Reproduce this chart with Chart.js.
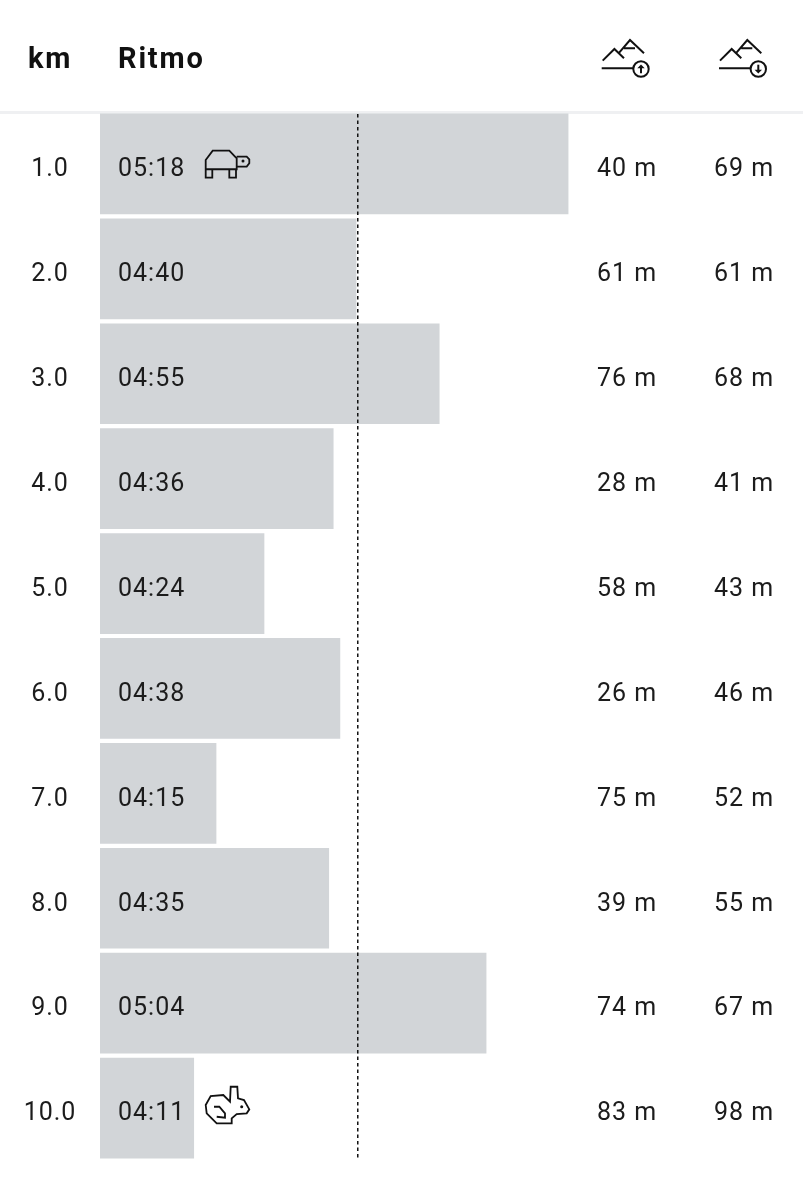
<!DOCTYPE html>
<html>
<head>
<meta charset="utf-8">
<style>
  html, body { margin: 0; padding: 0; background: #fff; }
  #paceChart { display: block; }
</style>
<script src="https://cdn.jsdelivr.net/npm/chart.js@4"></script>
</head>
<body>
<canvas id="paceChart" width="803" height="1200"></canvas>
<script>
const kmLabels = ["1.0", "2.0", "3.0", "4.0", "5.0", "6.0", "7.0", "8.0", "9.0", "10.0"];
const paceLabels = ["05:18", "04:40", "04:55", "04:36", "04:24", "04:38", "04:15", "04:35", "05:04", "04:11"];
// largo de cada barra en segundos
const paceSeconds = [317.9, 279.9, 294.8, 275.8, 263.4, 277, 254.8, 275, 303.2, 250.8];
const ascentMeters = [40, 61, 76, 28, 58, 26, 75, 39, 74, 83];
const descentMeters = [69, 61, 68, 41, 43, 46, 52, 55, 67, 98];
const averagePace = 280.2;

const fontName = "Roboto, sans-serif";
const textColor = "#1c1c1c";

// iconos dibujados a mano, origen en el centro de la fila
const turtleIcon = new Path2D(
  "M0.7 -4 L7.7 -13.3 L24.3 -13.3 L31.7 -5.7 L31.7 5.3 L0.7 5.3 Z" +
  "M0.7 5.3 L0.7 13.7 L7.3 13.7 L7.3 5.3" +
  "M24.3 5.3 L24.3 13.7 L31 13.7 L31 5.3" +
  "M31.7 -7.3 L41.7 -7.3 L44.3 -4.7 L44.3 -0.7 L41.7 2.7 L31.7 2.7"
);
const hareIcon = new Path2D(
  "M0.7 -3 L5.7 -12 L18.3 -13 L25 -6.3 L25.7 -21.3 L32.3 -21.3 L33 -9.7 L39 -8 L44.3 1.3 " +
  "L41.7 5.3 L31.7 6 L26.7 10.3 L26.7 15.3 L11.7 15.3 L1.7 5.3 Z" +
  "M9 -1.3 L14.3 -1.3 L20 5.3 L20 9.7 L11.7 8.7"
);
const mountainIcon = new Path2D(
  "M1 -7.7 L12.7 -19.3 L22.3 -10 M17.7 -16 L28.3 -28.3 L42.3 -15 M22.3 -20 L33.3 -20 M0 0 L31.7 0"
);

function drawEye(ctx, x, y) {
  ctx.beginPath();
  ctx.arc(x, y, 1.5, 0, Math.PI * 2);
  ctx.fill();
}

function drawMountain(ctx, x, y, up) {
  ctx.save();
  ctx.translate(x, y);
  ctx.strokeStyle = "#111";
  ctx.fillStyle = "#111";
  ctx.lineWidth = 2;
  ctx.stroke(mountainIcon);
  ctx.beginPath();
  ctx.arc(39.3, 0.7, 7.7, 0, Math.PI * 2);
  ctx.stroke();
  const dir = up ? 1 : -1;
  ctx.beginPath();
  ctx.moveTo(39.3, 0.7 + dir * 4.3);
  ctx.lineTo(39.3, 0.7 - dir * 1.5);
  ctx.stroke();
  ctx.beginPath();
  ctx.moveTo(35.6, 0.7 - dir * 0.8);
  ctx.lineTo(39.3, 0.7 - dir * 4.5);
  ctx.lineTo(43, 0.7 - dir * 0.8);
  ctx.closePath();
  ctx.fill();
  ctx.restore();
}

const tablePlugin = {
  id: "tablePlugin",
  beforeDatasetsDraw(chart) {
    const ctx = chart.ctx;
    ctx.save();
    ctx.fillStyle = "#eff0f2";
    ctx.fillRect(0, 111, 803, 3);
    ctx.restore();
  },
  afterDatasetsDraw(chart) {
    const ctx = chart.ctx;
    const x = chart.scales.x;
    const y = chart.scales.y;
    ctx.save();

    // linea del ritmo medio
    ctx.strokeStyle = "#111";
    ctx.lineWidth = 1.5;
    ctx.setLineDash([3.5, 3]);
    ctx.beginPath();
    ctx.moveTo(x.getPixelForValue(averagePace), y.getPixelForValue(0) - 50);
    ctx.lineTo(x.getPixelForValue(averagePace), y.getPixelForValue(kmLabels.length - 1) + 50);
    ctx.stroke();
    ctx.setLineDash([]);

    // cabecera
    ctx.fillStyle = "#111";
    ctx.textBaseline = "middle";
    ctx.font = "bold 29px " + fontName;
    ctx.letterSpacing = "1.8px";
    ctx.textAlign = "center";
    ctx.fillText("km", 50, 61);
    ctx.textAlign = "left";
    ctx.fillText("Ritmo", 118, 61);
    drawMountain(ctx, 601.7, 68.3, true);
    drawMountain(ctx, 719, 68.3, false);

    // filas
    ctx.fillStyle = textColor;
    ctx.font = "25px " + fontName;
    ctx.letterSpacing = "1px";
    kmLabels.forEach((km, i) => {
      const rowY = y.getPixelForValue(i) + 6;
      ctx.textAlign = "center";
      ctx.fillText(km, 50, rowY);
      ctx.fillText(ascentMeters[i] + " m", 627, rowY);
      ctx.fillText(descentMeters[i] + " m", 744, rowY);
      ctx.textAlign = "left";
      ctx.fillText(paceLabels[i], 118, rowY);
    });

    // tortuga en el km mas lento, liebre en el mas rapido
    const slowest = paceSeconds.indexOf(Math.max(...paceSeconds));
    const fastest = paceSeconds.indexOf(Math.min(...paceSeconds));
    ctx.strokeStyle = "#111";
    ctx.fillStyle = "#111";
    ctx.lineWidth = 1.8;
    ctx.save();
    ctx.translate(205, y.getPixelForValue(slowest));
    ctx.stroke(turtleIcon);
    drawEye(ctx, 38, -3);
    ctx.restore();
    ctx.save();
    ctx.translate(205, y.getPixelForValue(fastest));
    ctx.stroke(hareIcon);
    drawEye(ctx, 36.7, -1.3);
    ctx.restore();

    ctx.restore();
  }
};

new Chart(document.getElementById("paceChart").getContext("2d"), {
  type: "bar",
  data: {
    labels: kmLabels,
    datasets: [{
      data: paceSeconds,
      backgroundColor: "#d2d5d8",
      barThickness: 100,
      borderWidth: 0
    }]
  },
  options: {
    indexAxis: "y",
    responsive: false,
    animation: false,
    devicePixelRatio: 1,
    layout: { padding: { top: 111.5, bottom: 39.5, left: 0, right: 0 } },
    plugins: { legend: { display: false }, tooltip: { enabled: false } },
    scales: {
      x: { display: false, min: 234, max: 360 },
      y: {
        afterFit(scale) { scale.width = 100; },
        border: { display: false },
        grid: { display: false, drawTicks: false },
        ticks: { display: false }
      }
    }
  },
  plugins: [tablePlugin]
});
</script>
</body>
</html>
